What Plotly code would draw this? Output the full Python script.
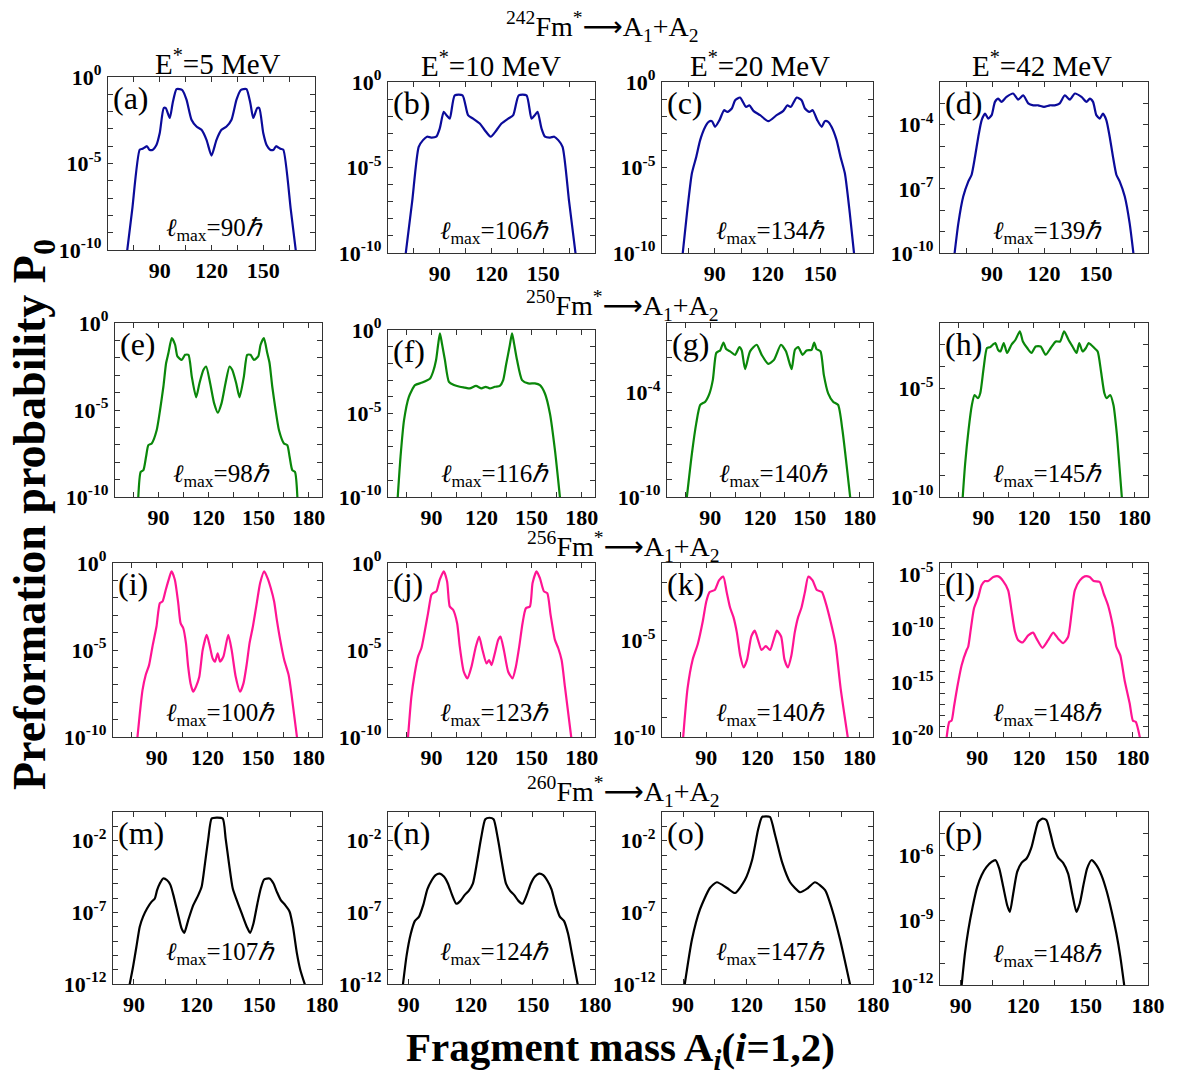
import plotly.graph_objects as go
import numpy as np

W, H = 1177, 1082

# ---------------------------------------------------------------------------
# Preformation probability P0 versus fragment mass A (stored as log10 P0)
# ---------------------------------------------------------------------------
# 242Fm*
mass_a = [70.8, 74, 78.4, 80, 82.6, 84, 86, 88, 90, 92.3, 93.5, 95.8, 97.5, 99.7, 101.5, 103, 105.5, 108.4,
          111.3, 114.2, 117.1, 120, 122.9, 125.8, 128.7, 131.6, 134.5, 137, 138.5, 140.3, 142.5, 144.2, 146.5,
          147.7, 150, 152, 154, 156, 157.4, 160, 161.6, 166, 169.2]
logp_a = [-10.3, -7.7, -4.2, -4.15, -4.0, -4.2, -4.2, -3.95, -3.24, -1.8, -1.8, -2.37, -1.5, -0.7, -0.7, -0.75,
          -1.31, -2.47, -2.86, -3.05, -3.63, -4.54, -3.63, -3.05, -2.86, -2.47, -1.31, -0.75, -0.7, -0.7, -1.5,
          -2.37, -1.8, -1.8, -3.24, -3.95, -4.2, -4.2, -4.0, -4.15, -4.2, -7.7, -10.3]

mass_b = [70, 74, 77.8, 80.3, 82.6, 85, 88, 90, 92.3, 93.9, 95.8, 98.7, 103.2, 106.4, 109.3, 113.2, 116.1, 119.5,
          122.9, 125.8, 129.7, 132.6, 135.8, 140.3, 143.2, 145.1, 146.7, 149, 151, 154, 156.4, 158.7, 161.2, 165, 169]
logp_b = [-10.25, -7, -3.79, -3.4, -3.2, -3.25, -3.2, -2.72, -1.75, -1.94, -2.14, -0.78, -0.78, -1.94, -2.14,
          -2.43, -2.82, -3.2, -2.82, -2.43, -2.14, -1.94, -0.78, -0.78, -2.14, -1.94, -1.75, -2.72, -3.2, -3.25,
          -3.2, -3.4, -3.79, -7, -10.25]

mass_c = [71.5, 74.2, 77, 79.5, 81.7, 84.6, 86.5, 88.4, 90.2, 92.7, 95.3, 97.2, 99.7, 101.6, 104.4, 107.8, 109.7,
          112, 115.8, 120.5, 125.2, 129, 131.3, 133.2, 136.6, 139.4, 141.3, 143.8, 145.7, 148.3, 150.8, 152.6,
          154.5, 156.4, 159.3, 161.5, 164, 166.8, 169.5]
logp_c = [-10.3, -7.67, -5.34, -4.37, -3.4, -2.62, -2.33, -2.29, -2.62, -2.23, -1.65, -1.75, -1.55, -1.07, -0.91,
          -1.46, -1.36, -1.69, -1.94, -2.29, -1.94, -1.69, -1.36, -1.46, -0.91, -1.07, -1.55, -1.75, -1.65, -2.23,
          -2.62, -2.29, -2.33, -2.62, -3.4, -4.37, -5.34, -7.67, -10.3]

mass_d = [68, 70.6, 73.4, 76.3, 78.2, 80.2, 82.1, 84, 86, 87.8, 89.8, 91.7, 93.6, 95.5, 98.4, 102.2, 105.1, 108,
          110.9, 113.8, 116.6, 120, 123.4, 126.2, 129.1, 132, 134.9, 137.8, 141.6, 144.5, 146.4, 148.3, 150.2,
          152.2, 154, 156, 157.9, 159.8, 161.8, 163.7, 166.6, 169.4, 172]
logp_d = [-10.3, -8.6, -7.36, -6.66, -6.35, -5.5, -4.56, -3.79, -3.48, -3.71, -3.55, -2.93, -2.78, -2.93, -2.7,
          -2.54, -2.82, -2.62, -3.0, -3.09, -3.09, -3.16, -3.09, -3.09, -3.0, -2.62, -2.82, -2.54, -2.7, -2.93,
          -2.78, -2.93, -3.55, -3.71, -3.48, -3.79, -4.56, -5.5, -6.35, -6.66, -7.36, -8.6, -10.3]

# 250Fm*
mass_e = [77.8, 79.4, 81, 82.6, 84, 86, 89, 91, 93, 94.6, 96, 98, 100, 101.4, 104, 106, 108, 110, 112.6, 114.6,
          117, 118.6, 121, 123.4, 125.6, 127.8, 130.2, 132.6, 134.2, 136.6, 138.6, 141.2, 143.2, 145.2, 147.2,
          149.8, 151.2, 153.2, 155.2, 156.6, 158.2, 160.2, 162.2, 165.2, 167.2, 168.6, 170.2, 171.8, 173.4]
logp_e = [-10.3, -8.56, -8.46, -7.69, -7.02, -6.92, -6.15, -5, -3.65, -2.31, -1.73, -0.87, -1.25, -1.92, -2.12,
          -1.83, -1.83, -3.08, -4.27, -3.46, -2.69, -2.5, -3.46, -4.62, -5.15, -4.62, -3.46, -2.5, -2.69, -3.46,
          -4.27, -3.08, -1.83, -1.83, -2.12, -1.92, -1.25, -0.87, -1.73, -2.31, -3.65, -5, -6.15, -6.92, -7.02,
          -7.69, -8.46, -8.56, -10.3]

mass_f = [69.5, 71.5, 73.6, 76.5, 80.2, 84.5, 89.2, 91, 92.8, 94, 95.1, 96.3, 98.1, 100.5, 103.5, 107, 110, 113,
          116.7, 120, 122.5, 125, 128, 131, 133, 134.7, 137, 138.3, 139.5, 141.3, 144.3, 148, 152, 155, 158, 161,
          164, 167.5]
logp_f = [-10.5, -7.6, -5.4, -4.0, -3.3, -3.15, -2.9, -2.5, -1.8, -0.9, -0.2, -0.8, -1.8, -3.1, -3.3, -3.4, -3.45,
          -3.5, -3.35, -3.5, -3.4, -3.5, -3.4, -3.35, -3.0, -2.1, -0.9, -0.2, -0.8, -1.8, -3.0, -3.2, -3.2, -3.3,
          -3.8, -5.0, -7.2, -10.5]

mass_g = [75.6, 79, 81.6, 84, 87, 89.6, 91.6, 93.6, 95, 96, 98, 99.6, 102, 105, 107.6, 109, 111, 114, 118, 121,
          125, 128.4, 132.6, 135.6, 139, 141, 143, 145.6, 148, 151, 152.6, 154, 156.4, 158.4, 161, 164, 167,
          169.6, 172, 174.6]
logp_g = [-10.3, -7.5, -5.77, -4.71, -4.52, -4.04, -3.27, -1.73, -1.63, -1.58, -1.12, -1.5, -1.63, -1.83, -1.38,
          -1.58, -2.65, -1.63, -1.25, -1.83, -2.35, -2.12, -1.25, -1.63, -2.65, -1.54, -1.38, -1.83, -1.58, -1.54,
          -1.12, -1.5, -1.63, -2.98, -4.04, -4.52, -4.71, -6.15, -8.08, -10.3]

mass_h = [77, 79, 81, 83, 84.6, 86.6, 88, 90, 92, 94, 95.4, 97, 98.6, 100, 102, 104, 106.6, 109, 111.6, 113.4,
          116, 118.6, 121, 124, 127, 130, 133, 135.6, 138, 140.6, 143, 145.4, 147, 149, 151, 152.6, 154, 156,
          158, 160, 162, 163.4, 165.4, 167.4, 169.4, 171, 173]
logp_h = [-10.6, -8.46, -6.92, -5.77, -5.31, -5.46, -5.23, -4.08, -3.15, -3.11, -3.0, -2.92, -3.23, -3.31, -2.92,
          -3.38, -3.0, -2.77, -2.38, -2.85, -3.15, -3.38, -3.08, -3.08, -3.46, -3.15, -2.85, -2.85, -2.38, -2.77,
          -3.08, -3.38, -2.92, -3.31, -3.15, -2.92, -3.0, -3.15, -3.31, -4.23, -5.23, -5.46, -5.31, -5.77, -7.08,
          -8.62, -10.6]

# 256Fm*
mass_i = [78, 79.9, 81.5, 83.4, 85.4, 87.4, 89.8, 91.8, 93.4, 95.3, 97.3, 98.7, 100.7, 102.7, 104.1, 105.7, 107.3,
          108.6, 110, 111.6, 113.2, 115.2, 117.2, 119.6, 121.5, 123.1, 124.5, 126.1, 127.5, 129.5, 132.4, 134.4,
          136.8, 139.4, 141.4, 143.4, 145, 147, 149.3, 151.3, 153.7, 155.7, 157.6, 159.6, 161.2, 163.2, 165.6,
          168.2, 170.1, 173.8]
logp_i = [-10.5, -8.65, -7.31, -6.44, -5.87, -4.81, -3.65, -2.31, -2.21, -1.54, -0.87, -0.48, -0.96, -2.31, -3.46,
          -3.75, -4.62, -5.96, -6.92, -7.4, -7.12, -6.54, -5, -4.13, -4.81, -5.48, -5.67, -5.19, -5.67, -5.38,
          -4.13, -5, -6.54, -7.4, -6.92, -5.77, -4.62, -3.65, -2.31, -1.15, -0.48, -0.87, -1.44, -2.21, -3.27,
          -4.42, -5.58, -6.44, -7.69, -10.5]

mass_j = [75.6, 78, 80, 82, 84, 86, 88, 90, 91, 93, 95, 97.4, 99.4, 101, 103, 105.4, 107, 109.4, 111.6, 114, 116.6,
          118.6, 120.6, 123, 124.6, 126, 128, 130, 131.4, 133.4, 136, 138.6, 140.6, 142.6, 144.6, 146.6, 149,
          150.6, 153, 155, 157.4, 159.4, 161.4, 164, 166, 168, 170, 174.4]
logp_j = [-10.5, -7.69, -6.35, -5.38, -4.9, -3.94, -2.88, -1.83, -1.73, -1.63, -0.96, -0.48, -1.06, -2.5, -2.69,
          -3.46, -4.81, -6.25, -6.63, -5.96, -4.81, -4.23, -5, -5.77, -5.58, -5.87, -5.19, -4.42, -4.23, -5, -6.25,
          -6.63, -5.96, -4.81, -3.46, -2.6, -2.5, -1.15, -0.48, -0.87, -1.63, -1.73, -2.98, -4.42, -4.9, -5.58,
          -7.12, -10.5]

mass_k = [76, 79, 82, 85, 88, 90, 92, 95, 97.5, 100, 102, 104, 106, 108, 110, 112, 114, 116.5, 118.5, 120.5, 122.5,
          125, 127.5, 129.5, 131.5, 134, 136, 138, 140, 142, 144, 146, 148, 150, 152.5, 155, 158, 160, 163, 166,
          169, 174]
logp_k = [-10.5, -7.5, -6, -5.2, -4, -3, -2.5, -2.4, -1.9, -1.7, -2.5, -3.3, -3.8, -4.6, -5.8, -6.4, -6, -4.8,
          -4.5, -5, -5.5, -5.3, -5.5, -5, -4.5, -4.8, -6, -6.4, -5.8, -4.6, -3.8, -3.3, -2.5, -1.7, -1.9, -2.4,
          -2.5, -3, -4, -5.2, -7.5, -10.5]

mass_l = [72, 73.9, 75.2, 76.6, 78.5, 81, 83.9, 84.8, 86.2, 88.1, 90.6, 92.5, 94.5, 96.4, 99.3, 102.2, 105, 107.9,
          109.8, 111.8, 113.7, 116.2, 119.5, 122.3, 124.3, 127.7, 131, 133.9, 136.8, 139.7, 142.5, 144.5, 146.4,
          149.3, 152.1, 155, 157.3, 160.8, 163.1, 165.6, 168.5, 170.4, 172.7, 175.2, 178.1, 180, 181.6, 184.6]
logp_l = [-20.5, -18.6, -18.5, -17.2, -15.4, -13.4, -12, -11.7, -10.2, -8.2, -7.13, -6.05, -5.66, -5.66, -5.29,
          -5.23, -5.66, -6.51, -8.35, -10.3, -11.1, -11.3, -10.65, -10.4, -10.96, -11.8, -11.1, -10.4, -10.96,
          -11.36, -10.8, -8.66, -6.51, -5.6, -5.23, -5.29, -5.66, -5.75, -6.82, -7.89, -9.88, -11.7, -12.5, -14.8,
          -16.9, -18.5, -18.6, -20.5]

# 260Fm*
mass_m = [87.6, 89.6, 91.2, 92.8, 94.4, 96.3, 98.4, 100, 101.1, 102.4, 104, 105.9, 107.5, 109.1, 111.2, 112.8,
          114.1, 116, 118.4, 120.8, 122.4, 124, 125.6, 127.2, 129.6, 132.5, 133.9, 135.5, 137.3, 139.2, 141.6, 144,
          145.6, 147.2, 149.1, 150.7, 152.3, 154.9, 156.8, 158.4, 160.3, 162.4, 164.5, 166.1, 168, 169.6, 172.4]
logp_m = [-12.3, -10.8, -9.4, -8.0, -7.3, -6.73, -6.27, -6.03, -5.45, -4.99, -4.64, -4.76, -5.1, -5.92, -7.2,
          -8.12, -8.43, -7.54, -6.5, -5.8, -5.22, -3.6, -1.86, -0.46, -0.39, -0.46, -1.86, -3.6, -5.34, -6.15,
          -7.08, -8.0, -8.43, -7.78, -6.38, -5.34, -4.71, -4.64, -4.99, -5.57, -6.15, -6.5, -6.96, -8.0, -9.86,
          -11.0, -12.3]

mass_n = [87, 89, 91, 93, 95, 97, 99, 101, 103, 105, 107, 109, 111, 113, 115, 117, 119, 121, 123, 125, 127, 129,
          131, 133, 135, 137, 139, 141, 143, 145, 147, 149, 151, 153, 155, 157, 159, 161, 163, 165, 167, 169, 172]
logp_n = [-12.3, -10, -8.5, -7.6, -7.3, -6.5, -5.4, -4.8, -4.4, -4.3, -4.5, -5, -5.8, -6.4, -6.2, -5.8, -5.5, -5,
          -3.5, -1.8, -0.5, -0.4, -0.5, -1.8, -3.5, -5, -5.5, -5.8, -6.2, -6.4, -5.8, -5, -4.5, -4.3, -4.4, -4.8,
          -5.4, -6.5, -7.3, -7.6, -8.5, -10, -12.3]

mass_o = [90.5, 94.2, 98, 102.7, 106, 110.8, 114.6, 119.3, 122.7, 125.5, 127.4, 129.3, 131.2, 133.6, 136.9, 140.7,
          145.4, 149.2, 152.5, 157.3, 160.6, 164.4, 169.5]
logp_o = [-12.3, -8.9, -6.8, -5.3, -4.9, -5.3, -5.65, -4.75, -3.35, -1.26, -0.35, -0.3, -0.35, -1.6, -3.5, -4.9,
          -5.6, -5.3, -4.9, -5.45, -6.8, -8.9, -12.3]

mass_p = [90, 92, 93.6, 95.7, 97.9, 100, 102.4, 104.8, 106.7, 108.5, 110.4, 112.3, 113.6, 115.2, 117.1, 119.2,
          121.6, 124, 125.6, 127.2, 129.3, 131.2, 133.1, 134.7, 136.8, 139.2, 141.6, 143.7, 145.6, 147.2, 149.1,
          150.7, 152.8, 155.2, 157.6, 160, 162.4, 164.8, 166.7, 169.1]
logp_p = [-12.4, -10.54, -9.46, -8.38, -7.46, -6.92, -6.54, -6.31, -6.23, -6.62, -7.46, -8.31, -8.62, -7.77,
          -6.77, -6.35, -6.15, -5.62, -5.0, -4.46, -4.31, -4.38, -5.0, -5.62, -6.11, -6.35, -6.85, -7.85, -8.62,
          -8.23, -7.31, -6.62, -6.23, -6.46, -6.92, -7.62, -8.54, -9.62, -10.7, -12.4]

# Labels
panel_letters = list("abcdefghijklmnop")
l_max = [90, 106, 134, 139, 98, 116, 140, 145, 100, 123, 140, 148, 107, 124, 147, 148]
energies = [5, 10, 20, 42]
nuclei = [242, 250, 256, 260]

series = [(mass_a, logp_a), (mass_b, logp_b), (mass_c, logp_c), (mass_d, logp_d),
          (mass_e, logp_e), (mass_f, logp_f), (mass_g, logp_g), (mass_h, logp_h),
          (mass_i, logp_i), (mass_j, logp_j), (mass_k, logp_k), (mass_l, logp_l),
          (mass_m, logp_m), (mass_n, logp_n), (mass_o, logp_o), (mass_p, logp_p)]

# labelled decades on each y axis
y_labels = [[0, -5, -10], [0, -5, -10], [0, -5, -10], [-4, -7, -10],
            [0, -5, -10], [0, -5, -10], [-4, -10], [-5, -10],
            [0, -5, -10], [0, -5, -10], [-5, -10], [-5, -10, -15, -20],
            [-2, -7, -12], [-2, -7, -12], [-2, -7, -12], [-6, -9, -12]]

# ---------------------------------------------------------------------------
# Panel geometry (pixels: left, right, top, bottom) and axis ranges
# ---------------------------------------------------------------------------
boxes = [(108, 315, 77, 250), (388, 595, 82, 253), (662, 873, 82, 253), (940, 1148, 82, 253),
         (115, 322, 323, 497), (388, 595, 330, 497), (667, 873, 323, 497), (940, 1148, 323, 497),
         (113, 322, 563, 737), (388, 595, 563, 737), (662, 873, 563, 737), (940, 1148, 563, 737),
         (113, 322, 812, 984), (388, 595, 812, 984), (662, 873, 812, 984), (940, 1148, 812, 985)]
x_ranges = [(60, 180)] * 4 + [(64, 188)] * 7 + [(68.5, 188.7)] + [(80, 180)] * 4
y_ranges = [(-10, 0), (-10, 0), (-10, 0), (-10, -2),
            (-10, 0), (-10, 0), (-10, 0), (-10, -2),
            (-10, 0), (-10, 0), (-10, -1), (-20, -4),
            (-12, 0), (-12, 0), (-12, 0), (-12, -4)]
row_colors = ["#0b0b9a", "#0a870a", "#ff1493", "#000000"]
lmax_offset = [25, 26, 27, 34]

SERIF = "Liberation Serif"
ARROW = '<span style="font-family:\'DejaVu Sans\'">⟶</span>'


def fx(px):
    return px / W


def fy(py):
    return 1 - py / H


fig = go.Figure()
annotations = []
layout_axes = {}

for k, ((mass, logp), box) in enumerate(zip(series, boxes)):
    idx = k + 1
    row = k // 4
    left, right, top, bottom = box
    xr, yr = x_ranges[k], y_ranges[k]
    sfx = "" if idx == 1 else str(idx)

    fig.add_trace(go.Scatter(
        x=mass, y=np.power(10.0, logp), mode="lines",
        line=dict(color=row_colors[row], width=2.2, shape="spline", smoothing=0.6),
        xaxis="x" + sfx, yaxis="y" + sfx, showlegend=False, hoverinfo="x+y"))

    # x ticks every 15 mass units, labelled every 30
    xt = [v for v in range(60, 181, 15) if xr[0] <= v <= xr[1]]
    labelled = {90, 120, 150} if row == 0 else {90, 120, 150, 180}
    xtext = [str(v) if v in labelled else "" for v in xt]

    # y ticks at each decade
    yt_exp = list(range(int(np.ceil(yr[0])), int(np.floor(yr[1])) + 1))
    yt = [10.0 ** e for e in yt_exp]
    ytext = [f"10<sup>{e}</sup>" if e in y_labels[k] else "" for e in yt_exp]

    common = dict(showline=True, linecolor="#333333", linewidth=1.4, mirror="ticks",
                  ticks="inside", ticklen=5, tickwidth=1, tickcolor="#333333",
                  showgrid=False, zeroline=False,
                  tickfont=dict(family=SERIF, size=22, color="black", weight="bold"))

    layout_axes["xaxis" + sfx] = dict(
        domain=[fx(left), fx(right)], range=list(xr), anchor="y" + sfx,
        tickmode="array", tickvals=xt, ticktext=xtext, **common)
    layout_axes["yaxis" + sfx] = dict(
        domain=[fy(bottom), fy(top)], type="log", range=list(yr), anchor="x" + sfx,
        tickmode="array", tickvals=yt, ticktext=ytext, ticklabelstandoff=1, **common)

    # panel letter
    annotations.append(dict(
        text=f"({panel_letters[k]})", x=fx(left + 3), y=fy(top + 21), xref="paper", yref="paper",
        xanchor="left", yanchor="middle", showarrow=False,
        font=dict(family=SERIF, size=32, color="black")))

    # angular momentum label
    annotations.append(dict(
        text=f"<i>ℓ</i><sub>max</sub>={l_max[k]}<i>ℏ</i>",
        x=fx((left + right) / 2 + 3), y=fy(bottom - lmax_offset[row] + 4), xref="paper", yref="paper",
        xanchor="center", yanchor="middle", showarrow=False,
        font=dict(family=SERIF, size=25, color="black")))

# excitation energies above the top row
e_centers = [(218, 62), (491, 64), (760, 64), (1042, 64)]
for e, (cx, cy) in zip(energies, e_centers):
    annotations.append(dict(
        text="E<sup>*</sup>=%d MeV" % e, x=fx(cx), y=fy(cy), xref="paper", yref="paper",
        xanchor="center", yanchor="middle", showarrow=False,
        font=dict(family=SERIF, size=29, color="black")))

# reaction labels for each row
r_centers = [(602, 27), (622, 305), (623, 546), (623, 791)]
for a, (cx, cy) in zip(nuclei, r_centers):
    annotations.append(dict(
        text=f"<sup>{a}</sup>Fm<sup>*</sup>{ARROW}A<sub>1</sub>+A<sub>2</sub>", x=fx(cx), y=fy(cy),
        xref="paper", yref="paper", xanchor="center", yanchor="middle", showarrow=False,
        font=dict(family=SERIF, size=28, color="black")))

# global axis titles
annotations.append(dict(
    text="<b>Preformation probability P<sub>0</sub></b>", x=fx(33), y=fy(515), xref="paper", yref="paper",
    xanchor="center", yanchor="middle", showarrow=False, textangle=-90,
    font=dict(family=SERIF, size=46, color="black")))
annotations.append(dict(
    text="<b>Fragment mass A<sub><i>i</i></sub>(<i>i</i>=1,2)</b>", x=fx(620), y=fy(1050),
    xref="paper", yref="paper", xanchor="center", yanchor="middle", showarrow=False,
    font=dict(family=SERIF, size=41, color="black")))

fig.update_layout(
    width=W, height=H, autosize=False,
    margin=dict(l=0, r=0, t=0, b=0, pad=0, autoexpand=False),
    paper_bgcolor="white", plot_bgcolor="white",
    showlegend=False, annotations=annotations, **layout_axes)

fig.write_html("out.html")
